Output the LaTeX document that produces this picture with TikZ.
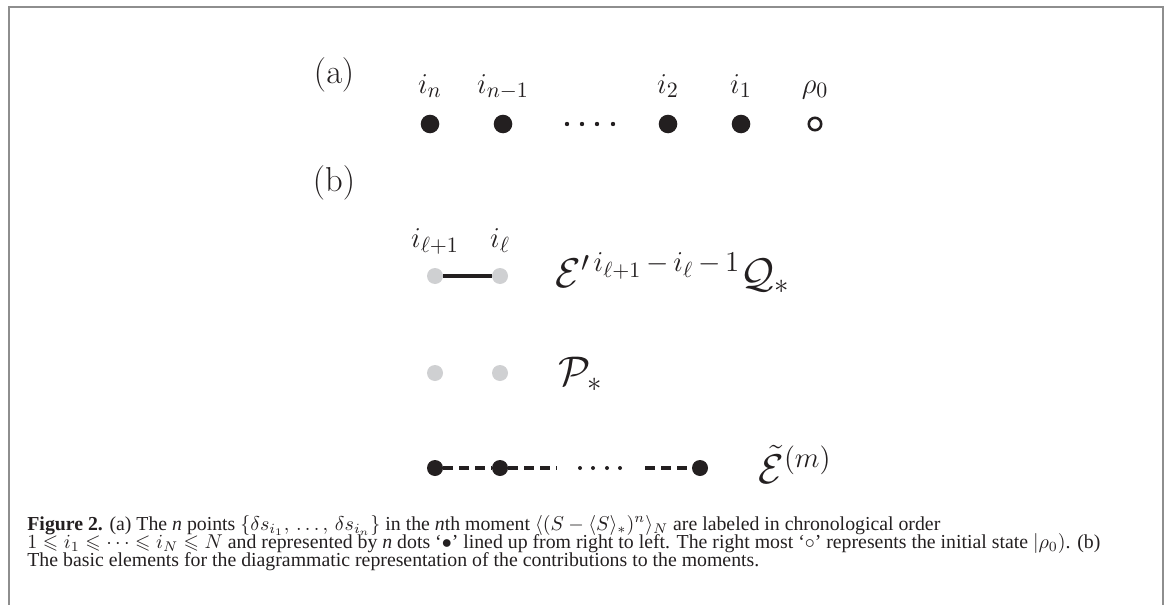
\documentclass[tikz,border=0pt]{standalone}
\usepackage{amsmath,amssymb}
\usepackage[no-math]{fontspec}
\setmainfont{Liberation Serif}
\usetikzlibrary{positioning}
\definecolor{Ink}{HTML}{231F20}
\definecolor{Ghost}{HTML}{CFD0D2}
\definecolor{Frame}{HTML}{8E8E8E}
\newcommand{\labfont}{\fontsize{15}{18}\selectfont}
\newcommand{\termfont}{\fontsize{22}{26}\selectfont}
\newcommand{\capfont}{\fontsize{9.9}{10}\selectfont}
\tikzset{
  bigdot/.style={circle,fill=Ink,inner sep=0pt,minimum size=9.3pt},
  ghostdot/.style={circle,fill=Ghost,inner sep=0pt,minimum size=8pt},
  enddot/.style={circle,fill=Ink,inner sep=0pt,minimum size=8pt},
  tinydot/.style={circle,fill=Ink,inner sep=0pt,minimum size=2.2pt},
  lab/.style={anchor=base,inner sep=0pt,text=Ink,font=\labfont},
  term/.style={anchor=base west,inner sep=0pt,text=Ink,font=\termfont},
  tag/.style={inner sep=0pt,text=Ink,font=\fontsize{19}{22}\selectfont},
  capline/.style={anchor=base west,inner sep=0pt,text=Ink,font=\capfont},
  bond/.style={draw=Ink,line width=1.7pt},
  dashbond/.style={draw=Ink,line width=2pt,dash pattern=on 5pt off 3pt}
}
\begin{document}
\begin{tikzpicture}[x=0.5pt,y=-0.5pt]
  \useasboundingbox (0,0) rectangle (1168,605);
  \draw[Frame,line width=1pt] (8.5,610) -- (8.5,6.5) -- (1163,6.5) -- (1163,610);
  % (a)
  \node[tag] (tagA) at (334,75) {$(\mathrm{a})$};
  \foreach \name/\x/\lab in {in/430/i_n, inm/503/i_{n-1}, itwo/668/i_2, ione/741/i_1}{
    \node[bigdot] (\name) at (\x,124) {};
    \node[lab] (\name-lab) at (\x,93) {$\lab$};
  }
  \foreach \x [count=\k] in {567,582,597,613}
    \node[tinydot] (gap\k) at (\x,124) {};
  \node[circle,draw=Ink,line width=1.3pt,inner sep=0pt,minimum size=6.2pt] (rho) at (815,124) {};
  \node[lab] (rho-lab) at (815,93) {$\rho_0$};
  % (b)
  \node[tag] (tagB) at (334,183) {$(\mathrm{b})$};
  \node[ghostdot] (qa) at (435,276) {};
  \node[ghostdot] (qb) at (500,276) {};
  \draw[bond] (qa) -- (qb);
  \node[lab] (qa-lab) at (435,247) {$i_{\ell+1}$};
  \node[lab] (qb-lab) at (500,247) {$i_\ell$};
  \node[term] (qterm) at (555,287) {$\mathcal{E}'^{\,i_{\ell+1}\,-\,i_\ell\,-\,1}\mathcal{Q}_*$};
  \node[ghostdot] (pa) at (435,373) {};
  \node[ghostdot] (pb) at (500,373) {};
  \node[term] (pterm) at (558,385) {$\mathcal{P}_*$};
  \node[enddot] (ea) at (435,468) {};
  \node[enddot] (eb) at (500,468) {};
  \node[enddot] (ec) at (700,468) {};
  \coordinate (cut1) at (557,468);
  \coordinate (cut2) at (645,468);
  \draw[dashbond] (ea) -- (eb);
  \draw[dashbond] (eb) -- (cut1);
  \draw[dashbond] (cut2) -- (ec);
  \foreach \x [count=\k] in {580,593,607,620}
    \node[tinydot,minimum size=2pt] (skip\k) at (\x,468) {};
  \node[term] (eterm) at (758,483) {$\tilde{\mathcal{E}}^{(m)}$};
  % caption
  \node[capline] (cap1) at (27,530) {\textbf{Figure 2.} (a) The \textit{n} points $\{\delta s_{i_1},\,\ldots,\,\delta s_{i_n}\}$ in the \textit{n}th moment $\langle (S-\langle S\rangle_*)^n\rangle_N$ are labeled in chronological order};
  \node[capline] (cap2) at (27,548) {$1\leqslant i_1\leqslant\cdots\leqslant i_N\leqslant N$ and represented by \textit{n} dots `$\bullet$' lined up from right to left. The right most `$\circ$' represents the initial state $|\rho_0)$. (b)};
  \node[capline] (cap3) at (27,566) {The basic elements for the diagrammatic representation of the contributions to the moments.};
\end{tikzpicture}
\end{document}
